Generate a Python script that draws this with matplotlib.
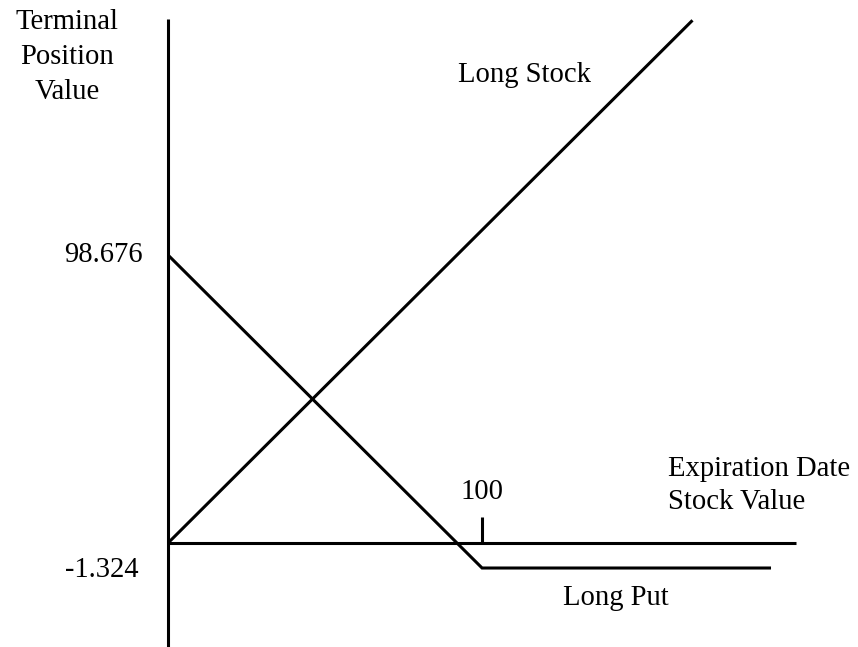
import matplotlib
matplotlib.use("Agg")
import matplotlib.pyplot as plt

# Schematic payoff diagram data (value units)
strike = 100
put_x = [0, 100, 192]
put_y = [98.676, -1.324, -1.324]
axis_level = 6.66          # where the horizontal axis is drawn (schematic)
stock_x = [0, 167]
stock_y = [axis_level, axis_level + 167]
haxis_x = [0, 200]
vaxis_y = [-26.6, 174.1]
tick_top = 15.0
y_tick_labels = ["98.676", "-1.324"]
y_tick_values = [98.676, -1.324]

plt.rcParams['font.family'] = ['Liberation Serif', 'DejaVu Serif']
fs = 20.6

fig = plt.figure(figsize=(8.58, 6.47), dpi=100)
ax = fig.add_axes([0, 0, 1, 1])
ax.set_xlim(-53.5, 219.7)
ax.set_ylim(-26.56, 180.15)
ax.axis('off')

lw = 2.2
ax.plot([0, 0], vaxis_y, color='black', lw=lw, solid_capstyle='butt')
ax.plot(haxis_x, [axis_level, axis_level], color='black', lw=lw, solid_capstyle='butt')
ax.plot([strike, strike], [axis_level, tick_top], color='black', lw=lw, solid_capstyle='butt')
ax.plot(stock_x, stock_y, color='black', lw=lw, solid_capstyle='butt')
ax.plot(put_x, put_y, color='black', lw=lw, solid_capstyle='butt', solid_joinstyle='miter')

ax.text(-32.2, 162.0, "Terminal\nPosition\nValue", ha='center', va='center',
        fontsize=fs, linespacing=1.45)
ax.text(-8.0, y_tick_values[0], y_tick_labels[0], ha='right', va='center', fontsize=fs)
ax.text(-9.5, y_tick_values[1] - 0.6, y_tick_labels[1], ha='right', va='center', fontsize=fs)
ax.text(strike, 22.96, "100", ha='center', va='center', fontsize=fs)
ax.text(159.2, 25.0, "Expiration Date\nStock Value", ha='left', va='center',
        fontsize=fs, linespacing=1.38)
ax.text(92.4, 156.2, "Long Stock", ha='left', va='center', fontsize=fs)
ax.text(125.8, -10.9, "Long Put", ha='left', va='center', fontsize=fs)

fig.savefig("out.png", dpi=100)
